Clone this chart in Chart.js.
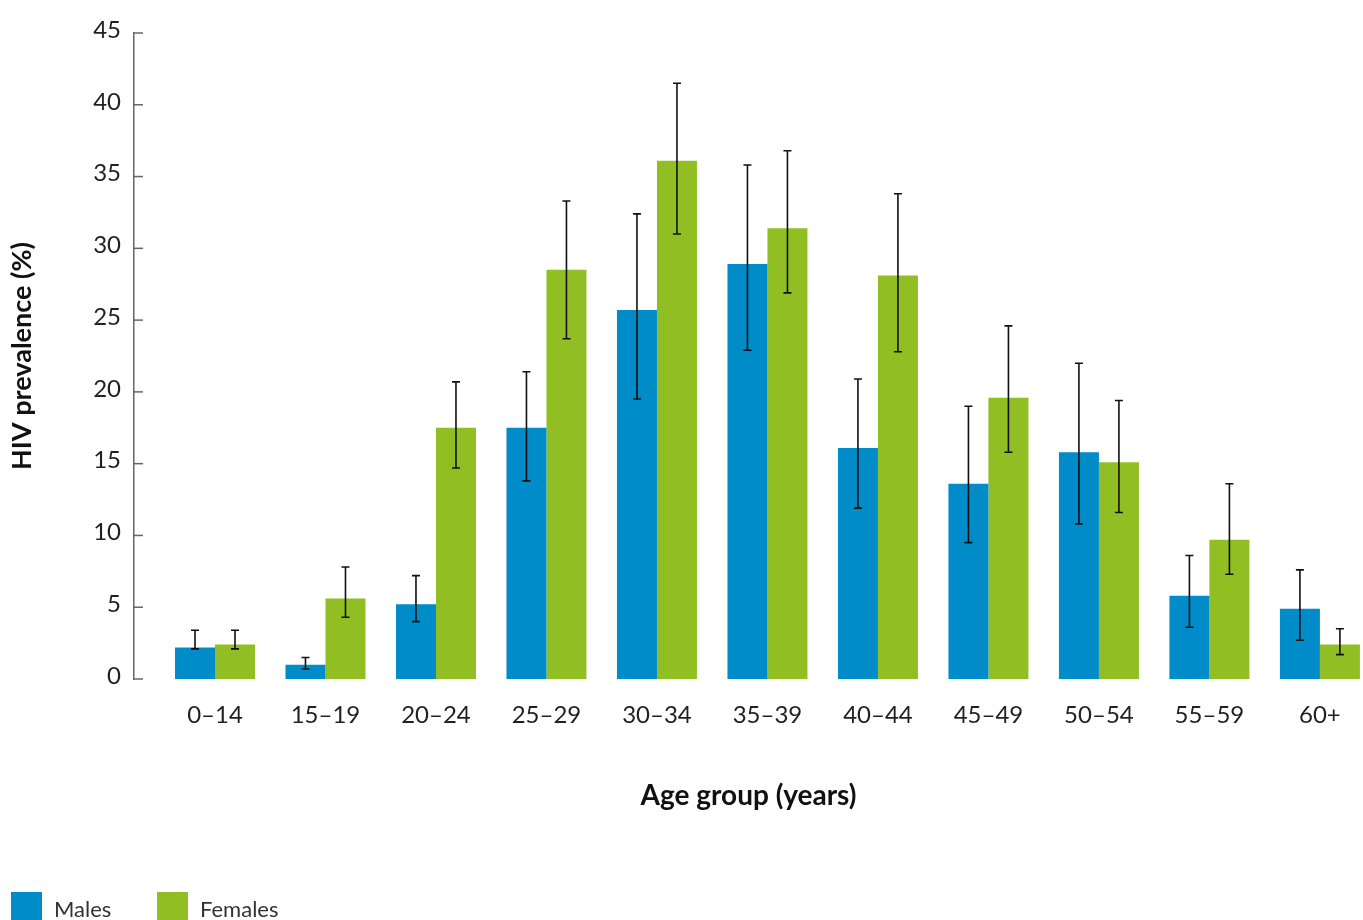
<!DOCTYPE html>
<html lang="en">
  <head>
    <meta charset="UTF-8" />
    <title>HIV prevalence by age group and sex</title>
    <script src="https://cdn.jsdelivr.net/npm/chart.js@4/dist/chart.umd.min.js"></script>
    <style>
      body { margin: 0; background: #fff; font-family: Lato, sans-serif; }
      #wrap { position: relative; width: 1363px; height: 920px; overflow: hidden; }
      #legend { position: absolute; left: 0; top: 892px; }
      .item { position: absolute; top: 0; white-space: nowrap; }
      .box { position: absolute; top: 0; width: 31px; height: 31px; }
      .txt { position: absolute; top: 3px; font-size: 22px; color: #333; }
    </style>
  </head>
  <body>
    <div id="wrap">
      <canvas id="myChart"></canvas>
      <div id="legend"></div>
    </div>
    <script>
      // categories and values
      const ageGroups = ["0–14", "15–19", "20–24", "25–29", "30–34", "35–39", "40–44", "45–49", "50–54", "55–59", "60+"];
      const males = [2.2, 1.0, 5.2, 17.5, 25.7, 28.9, 16.1, 13.6, 15.8, 5.8, 4.9];
      const malesLow = [2.1, 0.7, 4.0, 13.8, 19.5, 22.9, 11.9, 9.5, 10.8, 3.6, 2.7];
      const malesHigh = [3.4, 1.5, 7.2, 21.4, 32.4, 35.8, 20.9, 19.0, 22.0, 8.6, 7.6];
      const females = [2.4, 5.6, 17.5, 28.5, 36.1, 31.4, 28.1, 19.6, 15.1, 9.7, 2.4];
      const femalesLow = [2.1, 4.3, 14.7, 23.7, 31.0, 26.9, 22.8, 15.8, 11.6, 7.3, 1.7];
      const femalesHigh = [3.4, 7.8, 20.7, 33.3, 41.5, 36.8, 33.8, 24.6, 19.4, 13.6, 3.5];
      const yTicks = [0, 5, 10, 15, 20, 25, 30, 35, 40, 45];

      const seriesNames = ["Males", "Females"];
      const seriesColors = ["#008bc9", "#91bf23"];
      const errorLow = [malesLow, femalesLow];
      const errorHigh = [malesHigh, femalesHigh];

      // error bars + the little y tick marks that sit right of the axis line
      const extrasPlugin = {
        id: "extras",
        afterDraw(chart) {
          const ctx = chart.ctx;
          const y = chart.scales.y;
          ctx.save();
          ctx.strokeStyle = "#666";
          ctx.lineWidth = 1.5;
          y.ticks.forEach((t) => {
            const py = y.getPixelForValue(t.value);
            ctx.beginPath();
            ctx.moveTo(y.right, py);
            ctx.lineTo(y.right + 9, py);
            ctx.stroke();
          });

          ctx.strokeStyle = "#111";
          ctx.lineWidth = 1.6;
          chart.data.datasets.forEach((ds, i) => {
            const meta = chart.getDatasetMeta(i);
            meta.data.forEach((bar, j) => {
              const top = y.getPixelForValue(errorHigh[i][j]);
              const bot = y.getPixelForValue(errorLow[i][j]);
              ctx.beginPath();
              ctx.moveTo(bar.x, top);
              ctx.lineTo(bar.x, bot);
              ctx.moveTo(bar.x - 4, top);
              ctx.lineTo(bar.x + 4, top);
              ctx.moveTo(bar.x - 4, bot);
              ctx.lineTo(bar.x + 4, bot);
              ctx.stroke();
            });
          });
          ctx.restore();
        },
      };

      const ctx = document.getElementById("myChart").getContext("2d");
      const myChart = new Chart(ctx, {
        type: "bar",
        data: {
          datasets: [
            {
              label: seriesNames[0],
              data: males.map((v, i) => ({ x: i, y: v })),
              backgroundColor: seriesColors[0],
            },
            {
              label: seriesNames[1],
              data: females.map((v, i) => ({ x: i, y: v })),
              backgroundColor: seriesColors[1],
            },
          ],
        },
        options: {
          responsive: true,
          maintainAspectRatio: false,
          animation: false,
          categoryPercentage: 0.724,
          barPercentage: 1,
          layout: { padding: { top: 33, right: 0, bottom: 107, left: 0 } },
          plugins: { legend: { display: false }, tooltip: { enabled: false } },
          scales: {
            x: {
              type: "linear",
              offset: false,
              bounds: "data",
              min: -0.733,
              max: 10.39,
              afterBuildTicks: (s) => {
                s.ticks = ageGroups.map((_, i) => ({ value: i }));
              },
              afterFit: (s) => {
                s.height = 134;
              },
              grid: { display: false, drawTicks: false },
              border: { display: false },
              ticks: {
                autoSkip: false,
                maxRotation: 0,
                padding: 22,
                color: "#231f20",
                font: { family: "Lato", size: 24 },
                callback: (v) => ageGroups[v],
              },
              title: {
                display: true,
                text: "Age group (years)",
                color: "#111",
                font: { family: "Lato", size: 28, weight: "bold" },
                padding: { top: 0, bottom: 0 },
              },
            },
            y: {
              min: 0,
              max: 45,
              afterBuildTicks: (s) => {
                s.ticks = yTicks.map((v) => ({ value: v }));
              },
              afterFit: (s) => {
                s.width = 134;
              },
              grid: { display: false, drawTicks: false },
              border: { display: true, color: "#666", width: 1.5 },
              ticks: {
                padding: 13,
                labelOffset: -3,
                color: "#231f20",
                font: { family: "Lato", size: 24 },
              },
              title: {
                display: true,
                text: "HIV prevalence (%)",
                color: "#111",
                font: { family: "Lato", size: 27, weight: "bold" },
                padding: { top: 6, bottom: 0 },
              },
            },
          },
        },
        plugins: [extrasPlugin],
      });

      // legend at the bottom left
      const legend = document.getElementById("legend");
      const itemLeft = [11, 157];
      seriesNames.forEach((name, i) => {
        const item = document.createElement("div");
        item.className = "item";
        item.style.left = itemLeft[i] + "px";
        item.innerHTML =
          '<span class="box" style="background:' + seriesColors[i] + '"></span>' +
          '<span class="txt" style="left:43px">' + name + "</span>";
        legend.appendChild(item);
      });
    </script>
  </body>
</html>
